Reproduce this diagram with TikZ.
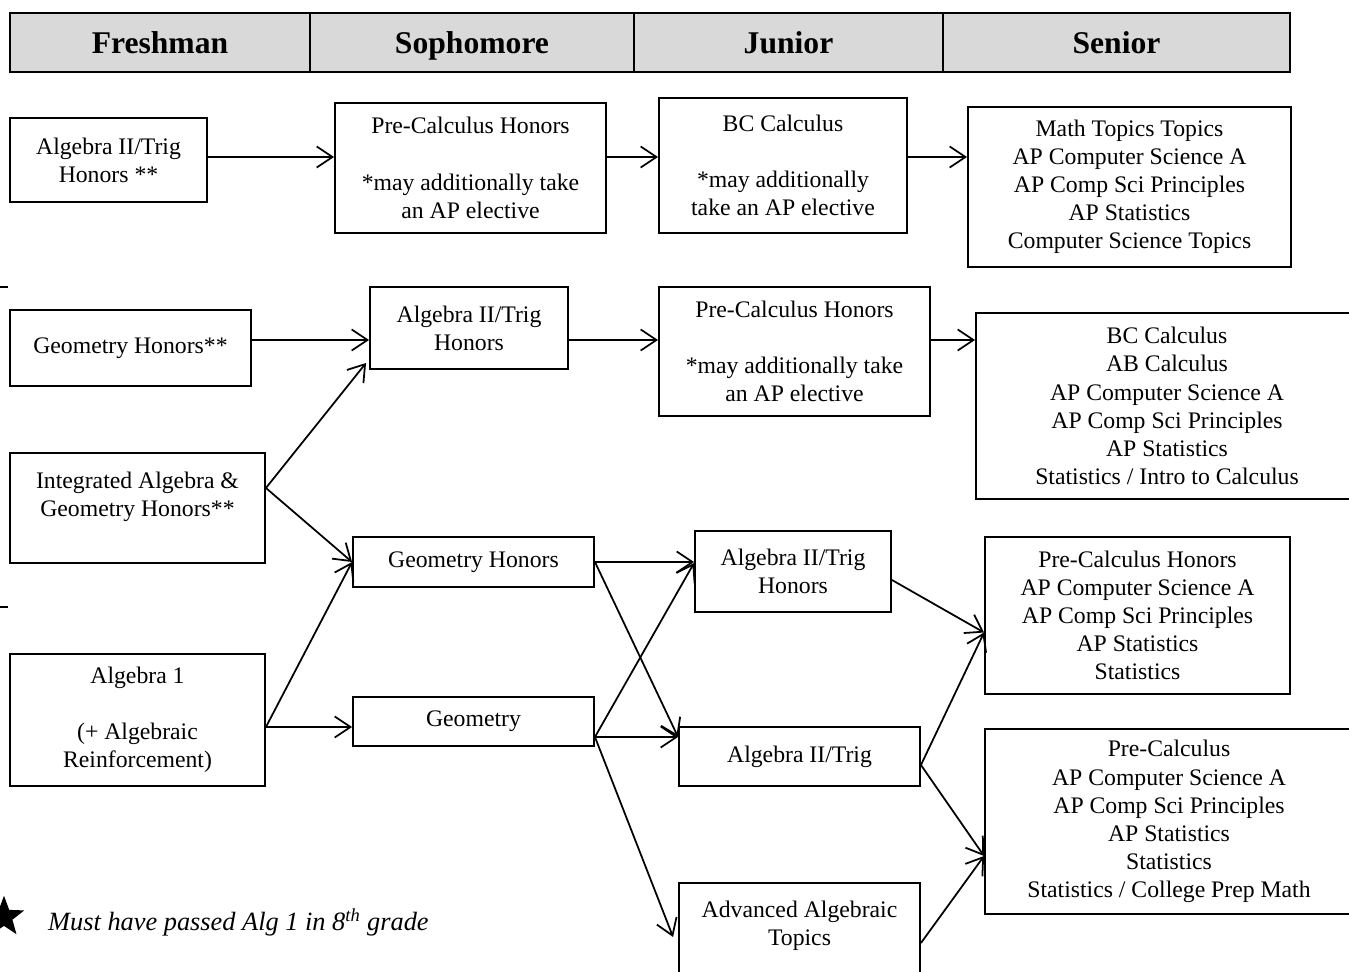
\documentclass[tikz,border=0pt]{standalone}
\usepackage{fontspec}
\setmainfont{Liberation Serif}
\usetikzlibrary{shapes.geometric,arrows.meta,calc}

\begin{document}
\begin{tikzpicture}[x=0.02cm,y=-0.02cm,
    course/.style={draw,rectangle,line width=1.1pt,align=center,inner sep=2pt,font=\fontsize{13.5}{16}\selectfont},
    head/.style={draw,rectangle,line width=1.6pt,fill=black!15,minimum height=1.18cm,text height=13pt,text depth=0pt,font=\bfseries\fontsize{18}{20}\selectfont},
    flow/.style={-{Straight Barb[length=9pt,width=12pt]},line width=1pt}]
    \useasboundingbox(0,0)rectangle(1349,972);
        % year headings
        \node(freshman)at(160,42.5)[head,minimum width=6cm]{Freshman};
        \node(sophomore)at(472,42.5)[head,minimum width=6.48cm]{Sophomore};
        \node(junior)at(788.5,42.5)[head,minimum width=6.18cm]{Junior};
        \node(senior)at(1116.5,42.5)[head,minimum width=6.94cm]{Senior};
        % courses
        \node(alg2h)at(108.5,160)[course,minimum width=3.94cm,minimum height=1.68cm]{Algebra II/Trig\\Honors **};
        \node(precalch)at(470.5,168)[course,minimum width=5.42cm,minimum height=2.6cm]{Pre-Calculus Honors\\~\\{*}may additionally take\\an AP elective};
        \node(bc)at(783,165.5)[course,minimum width=4.96cm,minimum height=2.7cm]{BC Calculus\\~\\{*}may additionally\\take an AP elective};
        \node(topics)at(1129.5,187)[course,minimum width=6.46cm,minimum height=3.2cm]{Math Topics Topics\\AP Computer Science A\\AP Comp Sci Principles\\AP Statistics\\Computer Science Topics};
        \node(geomhf)at(130.5,348)[course,minimum width=4.82cm,minimum height=1.52cm]{Geometry Honors**};
        \node(alg2hs)at(469,328)[course,minimum width=3.96cm,minimum height=1.64cm]{Algebra II/Trig\\Honors};
        \node(precalchj)at(794.5,351.5)[course,minimum width=5.42cm,minimum height=2.58cm]{Pre-Calculus Honors\\~\\{*}may additionally take\\an AP elective};
        \node(bcs)at(1167,406)[course,minimum width=7.64cm,minimum height=3.72cm]{BC Calculus\\AB Calculus\\AP Computer Science A\\AP Comp Sci Principles\\AP Statistics\\Statistics / Intro to Calculus};
        \node(intalg)at(137.5,508)[course,minimum width=5.1cm,minimum height=2.2cm]{Integrated Algebra \&\\Geometry Honors**\\~};
        \node(geomhs)at(473.5,562)[course,minimum width=4.82cm,minimum height=1cm]{Geometry Honors};
        \node(alg2hj)at(793,571.5)[course,minimum width=3.92cm,minimum height=1.62cm]{Algebra II/Trig\\Honors};
        \node(precalchs)at(1137.5,615.5)[course,minimum width=6.1cm,minimum height=3.14cm]{Pre-Calculus Honors\\AP Computer Science A\\AP Comp Sci Principles\\AP Statistics\\Statistics};
        \node(alg1)at(137.5,720)[course,minimum width=5.1cm,minimum height=2.64cm]{Algebra 1\\~\\(+ Algebraic\\Reinforcement)};
        \node(geom)at(473.5,721.5)[course,minimum width=4.82cm,minimum height=0.98cm]{Geometry};
        \node(alg2t)at(799.5,756.5)[course,minimum width=4.82cm,minimum height=1.18cm]{Algebra II/Trig};
        \node(precalcs)at(1169,821.5)[course,minimum width=7.36cm,minimum height=3.7cm]{Pre-Calculus\\AP Computer Science A\\AP Comp Sci Principles\\AP Statistics\\Statistics\\Statistics / College Prep Math};
        \node(advalg)at(799.5,951)[course,minimum width=4.82cm,minimum height=2.72cm]{Advanced Algebraic\\Topics\\~\\~};
        % footnote
        \node(star)at(4,917)[star,star points=5,star point ratio=2.4,fill,inner sep=0pt,minimum size=0.85cm]{};
        \node(note)at(42,922)[anchor=west,font=\itshape\fontsize{15}{18}\selectfont]{Must have passed Alg 1 in 8\textsuperscript{th} grade};
        \draw[line width=1.1pt](0,287)--(8,287);
        \draw[line width=1.1pt](0,607)--(8,607);
        % pathways
        \coordinate(rowa)at(0,157);
        \coordinate(rowb)at(0,340);
        \draw[flow](alg2h.east|-rowa)--(precalch.west|-rowa);
        \draw[flow](precalch.east|-rowa)--(bc.west|-rowa);
        \draw[flow](bc.east|-rowa)--(topics.west|-rowa);
        \draw[flow](geomhf.east|-rowb)--(alg2hs.west|-rowb);
        \draw[flow](alg2hs.east|-rowb)--(precalchj.west|-rowb);
        \draw[flow](precalchj.east|-rowb)--(bcs.west|-rowb);
        \draw[flow]($(intalg.east)+(0,-20)$)--($(alg2hs.south west)+(-3,-7)$);
        \draw[flow]($(intalg.east)+(0,-20)$)--(geomhs.west);
        \draw[flow]($(alg1.east)+(0,7)$)--(geomhs.west);
        \draw[flow]($(alg1.east)+(0,7)$)--($(geom.west)+(0,5.5)$);
        \draw[flow](geomhs.east)--(geomhs.east-|alg2hj.west);
        \draw[flow](geomhs.east)--($(alg2t.west)+(0,-19.5)$);
        \draw[flow]($(geom.east)+(0,15.5)$)--($(alg2hj.west)+(0,-8.5)$);
        \draw[flow]($(geom.east)+(0,15.5)$)--($(alg2t.west)+(0,-19.5)$);
        \draw[flow]($(geom.east)+(0,15.5)$)--($(advalg.west)+(-5,-14)$);
        \draw[flow]($(alg2hj.east)+(0,8.5)$)--($(precalchs.west)+(0,17)$);
        \draw[flow]($(alg2t.east)+(0,8.5)$)--($(precalchs.west)+(0,17)$);
        \draw[flow]($(alg2t.east)+(0,8.5)$)--($(precalcs.west)+(0,34.5)$);
        \draw[flow]($(advalg.east)+(0,-8)$)--($(precalcs.west)+(0,34.5)$);
    \end{tikzpicture}
\end{document}
